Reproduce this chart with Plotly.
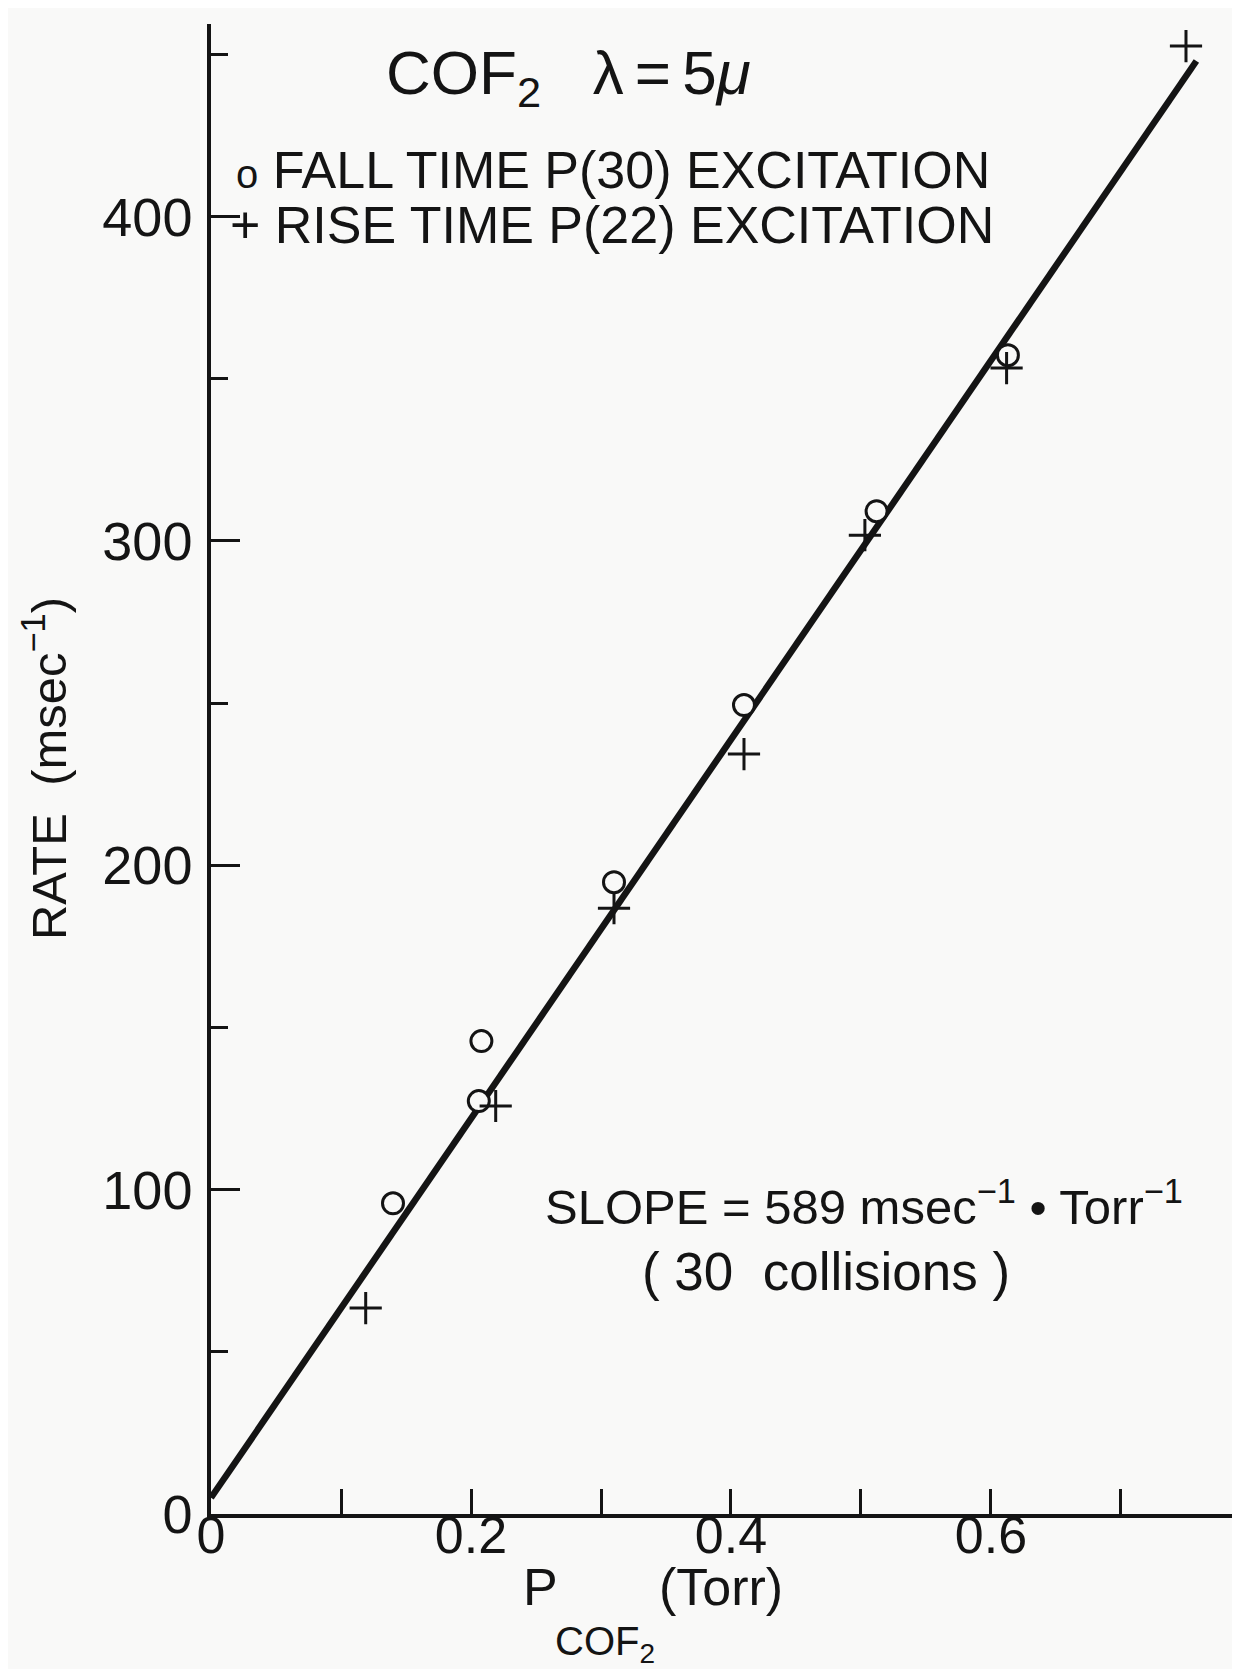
import plotly.graph_objects as go

# ---------------- data ----------------
fall_p = [0.140, 0.206, 0.208, 0.310, 0.410, 0.512, 0.613]
fall_rate = [95.8, 127.3, 145.8, 194.8, 249.4, 309.2, 357.3]

rise_p = [0.119, 0.219, 0.310, 0.410, 0.503, 0.612, 0.750]
rise_rate = [63.5, 125.8, 186.8, 234.3, 301.8, 353.3, 452.6]

fit_p = [0.0, 0.758]
fit_rate = [5.0, 448.0]

x_tickvals = [0.0, 0.1, 0.2, 0.3, 0.4, 0.5, 0.6, 0.7]
x_ticktext = ["0", "", "0.2", "", "0.4", "", "0.6", ""]
y_tickvals = [0, 100, 200, 300, 400]
y_ticktext = ["0", "100", "200", "300", "400"]

INK = "#141414"
PAPER = "#f9f9f8"
FONT = "Liberation Sans, Arial, sans-serif"

fig = go.Figure()

fig.add_trace(go.Scatter(
    x=fit_p, y=fit_rate, mode="lines",
    line=dict(color=INK, width=6.5), showlegend=False, hoverinfo="skip"))

fig.add_trace(go.Scatter(
    x=fall_p, y=fall_rate, mode="markers", name="FALL TIME P(30) EXCITATION",
    marker=dict(symbol="circle", size=21, color=PAPER,
                line=dict(color=INK, width=3)),
    showlegend=False))

fig.add_trace(go.Scatter(
    x=rise_p, y=rise_rate, mode="markers", name="RISE TIME P(22) EXCITATION",
    marker=dict(symbol="cross-thin", size=23,
                line=dict(color=INK, width=3)),
    showlegend=False))

fig.update_xaxes(
    range=[0, 0.7977], showline=True, linecolor=INK, linewidth=3.5,
    showgrid=False, zeroline=False,
    tickmode="array", tickvals=x_tickvals, ticktext=x_ticktext,
    ticks="inside", ticklen=25, tickwidth=3, tickcolor=INK,
    tickfont=dict(family=FONT, size=52, color=INK))
try:
    fig.update_xaxes(ticklabelstandoff=-27)
except Exception:
    fig.update_xaxes(ticklabelstandoff=0)

fig.update_yaxes(
    range=[0, 459.4], showline=True, linecolor=INK, linewidth=3.5,
    showgrid=False, zeroline=False,
    tickmode="array", tickvals=y_tickvals, ticktext=y_ticktext,
    ticks="inside", ticklen=29, tickwidth=3, tickcolor=INK,
    tickfont=dict(family=FONT, size=54, color=INK), ticklabelstandoff=4,
    minor=dict(ticks="inside", ticklen=17, tickwidth=3, tickcolor=INK,
               tick0=50, dtick=100, showgrid=False))

ann_font = dict(family=FONT, size=52, color=INK)
annotations = [
    # title
    dict(x=0.133, y=443.2, xref="x", yref="y", xanchor="left", yanchor="middle",
         text="COF<sub>2</sub>   λ<span style='font-size:40px'> </span>=<span style='font-size:40px'> </span>5<i>μ</i>",
         showarrow=False, font=dict(family=FONT, size=62, color=INK)),
    # legend lines
    dict(x=0.601, y=414.5, xref="x", yref="y", xanchor="right", yanchor="middle",
         text="<span style='font-size:40px'>o</span> FALL TIME P(30) EXCITATION",
         showarrow=False, font=ann_font),
    dict(x=0.6037, y=397.5, xref="x", yref="y", xanchor="right", yanchor="middle",
         text="+ RISE TIME P(22) EXCITATION", showarrow=False, font=ann_font),
    # slope note
    dict(x=0.255, y=95.9, xref="x", yref="y", xanchor="left", yanchor="middle",
         text="SLOPE = 589 msec<sup>−1</sup> • Torr<sup>−1</sup>",
         showarrow=False, font=dict(family=FONT, size=49, color=INK)),
    dict(x=0.330, y=74.8, xref="x", yref="y", xanchor="left", yanchor="middle",
         text="( 30  collisions )", showarrow=False,
         font=dict(family=FONT, size=53, color=INK)),
    # y title
    dict(x=-0.160, y=229.7, xref="paper", yref="y", xanchor="center", yanchor="middle",
         text="RATE  (msec<sup>−1</sup>)", textangle=-90, showarrow=False,
         font=dict(family=FONT, size=49, color=INK)),
    # x title (paper coordinates, below the plot area)
    dict(x=0.318, y=-0.049, xref="paper", yref="paper", xanchor="center", yanchor="middle",
         text="P", showarrow=False, font=ann_font),
    dict(x=0.330, y=-0.0875, xref="paper", yref="paper", xanchor="left", yanchor="middle",
         text="COF<sub>2</sub>", showarrow=False,
         font=dict(family=FONT, size=40, color=INK)),
    dict(x=0.430, y=-0.049, xref="paper", yref="paper", xanchor="left", yanchor="middle",
         text="(Torr)", showarrow=False, font=ann_font),
]

fig.update_layout(
    width=1240, height=1669,
    margin=dict(l=203, r=0, t=16, b=163),
    paper_bgcolor=PAPER, plot_bgcolor=PAPER,
    annotations=annotations,
    showlegend=False,
)

fig.write_html("out.html")
